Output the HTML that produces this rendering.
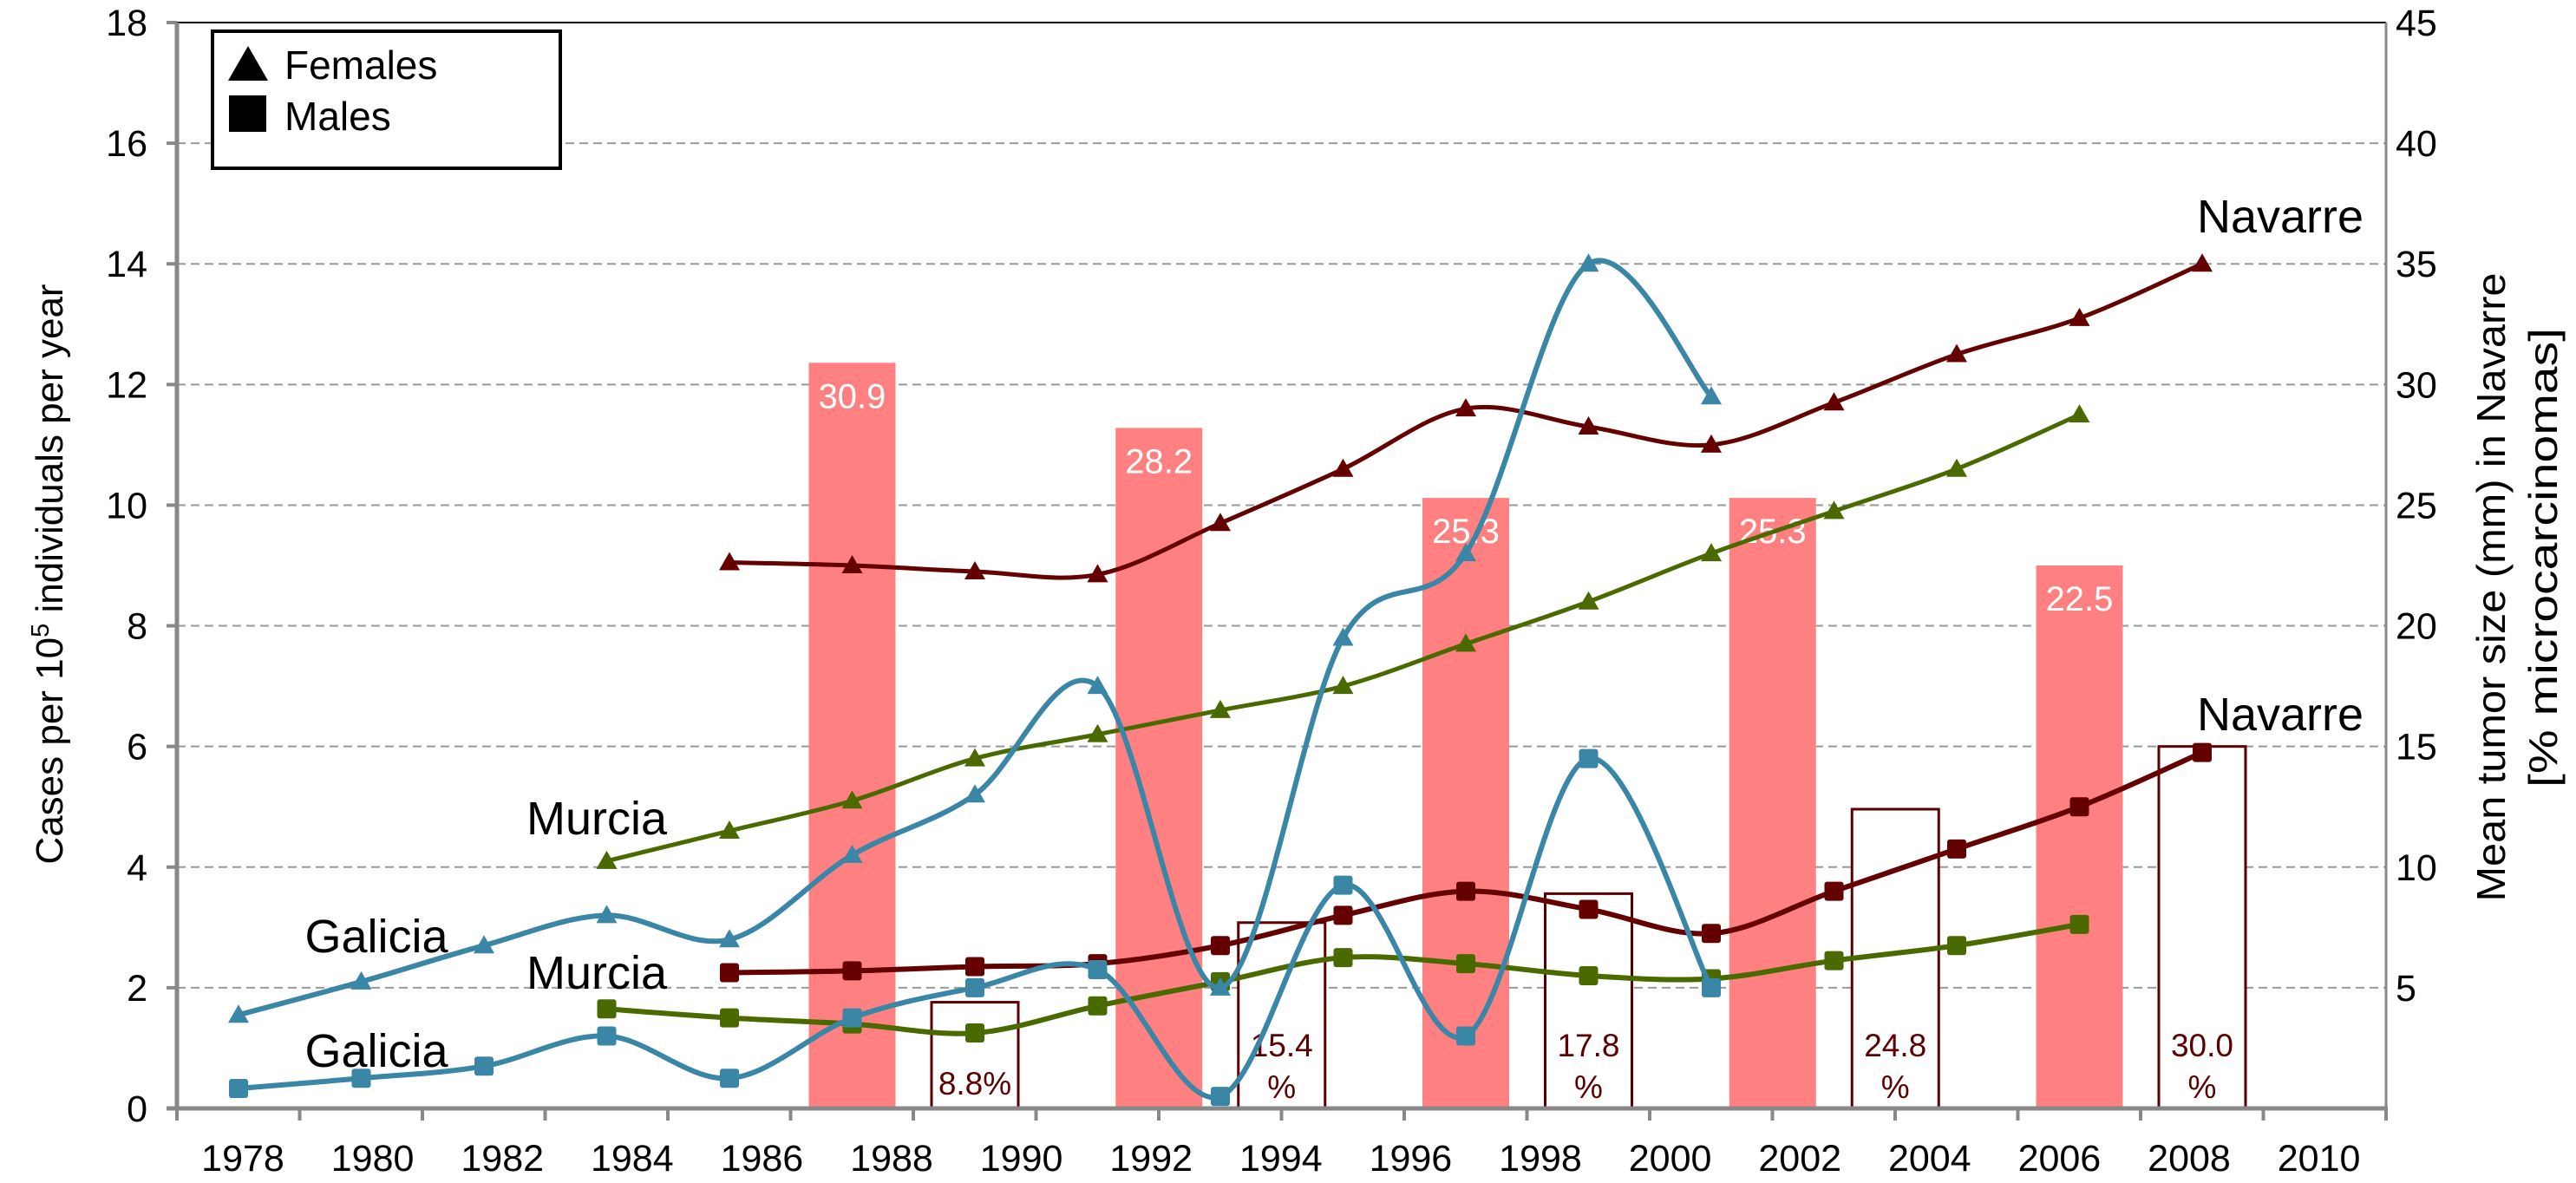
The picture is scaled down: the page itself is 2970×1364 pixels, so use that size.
<!DOCTYPE html>
<html><head><meta charset="utf-8"><style>
html,body{margin:0;padding:0;background:#fff;}
svg{display:block;font-family:"Liberation Sans",Arial,sans-serif;}
</style></head><body>
<svg id="chart" width="2970" height="1364" viewBox="0 0 2970 1364" xmlns="http://www.w3.org/2000/svg">
<g id="grid"></g>
<g id="bars"></g>
<g id="boxes"></g>
<g id="axes"></g>
<g id="lines"></g>
<g font-size="54" fill="#000">
<text x="2629" y="268" text-anchor="middle">Navarre</text>
<text x="2629" y="842" text-anchor="middle">Navarre</text>
<text x="688" y="962" text-anchor="middle">Murcia</text>
<text x="688" y="1140" text-anchor="middle">Murcia</text>
<text x="434" y="1098" text-anchor="middle">Galicia</text>
<text x="434" y="1230" text-anchor="middle">Galicia</text>
</g>
<g>
<rect x="245" y="36" width="401" height="158" fill="#fff" stroke="#000" stroke-width="4"/>
<polygon points="263,93 286,53 309,93" fill="#000"/>
<text x="328" y="91" font-size="46">Females</text>
<rect x="264" y="110" width="43" height="42" fill="#000"/>
<text x="328" y="150" font-size="46">Males</text>
</g>
<text transform="translate(72,662) rotate(-90)" text-anchor="middle" font-size="44">Cases per 10<tspan dy="-16" font-size="29">5</tspan><tspan dy="16"> individuals per year</tspan></text>
<g font-size="46" text-anchor="middle">
<text transform="translate(2888,677) rotate(-90)" textLength="725" lengthAdjust="spacingAndGlyphs">Mean tumor size (mm) in Navarre</text>
<text transform="translate(2948,643) rotate(-90)" textLength="530" lengthAdjust="spacingAndGlyphs">[% microcarcinomas]</text>
</g>
</svg>
<script>
const xLabels=["1978","1980","1982","1984","1986","1988","1990","1992","1994","1996","1998","2000","2002","2004","2006","2008","2010"];
const yTicks=[0,2,4,6,8,10,12,14,16,18];
const y2Ticks=[5,10,15,20,25,30,35,40,45];
const galiciaF=[1.55,2.1,2.7,3.2,2.8,4.2,5.2,7.0,2.0,7.8,9.2,14.0,11.8];
const galiciaM=[0.33,0.5,0.7,1.2,0.5,1.5,2.0,2.3,0.2,3.7,1.2,5.8,2.0];
const murciaF=[4.1,4.6,5.1,5.8,6.2,6.6,7.0,7.7,8.4,9.2,9.9,10.6,11.5];
const murciaM=[1.65,1.5,1.4,1.25,1.7,2.1,2.5,2.4,2.2,2.15,2.45,2.7,3.05];
const navarreF=[9.05,9.0,8.9,8.85,9.7,10.6,11.6,11.3,11.0,11.7,12.5,13.1,14.0];
const navarreM=[2.25,2.28,2.35,2.4,2.7,3.2,3.6,3.3,2.9,3.6,4.3,5.0,5.9];
const tumorPos=[5,7.5,10,12.5,15];
const tumorSize=[30.9,28.2,25.3,25.3,22.5];
const microPos=[6,8.5,11,13.5,16];
const microPct=[8.8,15.4,17.8,24.8,30.0];
const microLabels=["8.8%","15.4\n%","17.8\n%","24.8\n%","30.0\n%"];

const NS="http://www.w3.org/2000/svg";
const X0=204,X1=2751,Y0=1278,Ytop=26;
const xs=i=>275+141.5*i;
const ys=v=>Y0-(Y0-Ytop)*v/18;
const ys2=v=>Y0-(Y0-Ytop)*v/45;
function mk(tag,attrs,parent){const e=document.createElementNS(NS,tag);for(const k in attrs)e.setAttribute(k,attrs[k]);parent.appendChild(e);return e;}
const grid=document.getElementById('grid'),axes=document.getElementById('axes');
yTicks.forEach((v,i)=>{
  if(v>0&&v<18){const l=mk('line',{x1:X0,x2:X1,y1:ys(v),y2:ys(v),stroke:'#999','stroke-width':2,'stroke-dasharray':'10,6'},grid);
  
  }
  const tk=mk('line',{x1:X0-12,x2:X0,y1:ys(v),y2:ys(v),stroke:'#888','stroke-width':4},axes);
  
  
  const t=mk('text',{x:170,y:ys(v)+15,'text-anchor':'end','font-size':43},axes);
  
  
  t.textContent=v;
});
y2Ticks.forEach(v=>{
  const t=mk('text',{x:2762,y:ys2(v)+15,'font-size':43},axes);
  
  
  t.textContent=v;
});
mk('line',{x1:X0,x2:X1,y1:Ytop,y2:Ytop,stroke:'#000','stroke-width':2},axes);
mk('line',{x1:X0,x2:X0,y1:Ytop,y2:Y0+2,stroke:'#888','stroke-width':5},axes);
mk('line',{x1:X1,x2:X1,y1:Ytop,y2:Y0+2,stroke:'#888','stroke-width':3},axes);
mk('line',{x1:X0-12,x2:X1+2,y1:Y0,y2:Y0,stroke:'#888','stroke-width':5},axes);
for(let i=0;i<=18;i++){const x=X0+(X1-X0)*i/18;const tk=mk('line',{x1:x,x2:x,y1:Y0,y2:Y0+14,stroke:'#888','stroke-width':4},axes);
  
  }
xLabels.forEach((s,i)=>{
  const t=mk('text',{x:280+i*149.6,y:1350,'text-anchor':'middle','font-size':43},axes);
  
  
  t.textContent=s;
});
const bars=document.getElementById('bars');
tumorSize.forEach((v,i)=>{
  const x=xs(tumorPos[i]);
  const r=mk('rect',{x:x-50,y:ys2(v),width:100,height:Y0-ys2(v),fill:'#ff8080'},bars);
  
  
  const t=mk('text',{x:x,y:ys2(v)+52,'text-anchor':'middle','font-size':40,fill:'#fff'},bars);
  
  
  t.textContent=v.toFixed(1);
});
const boxes=document.getElementById('boxes');
microPct.forEach((v,i)=>{
  const x=xs(microPos[i]);const top=ys2(v/2);
  const r=mk('rect',{x:x-50,y:top,width:100,height:Y0-top,fill:'#fff',stroke:'#5a0000','stroke-width':3},boxes);
  
  
  const parts=microLabels[i].split('\n');
  parts.forEach((p,j)=>{
    const t=mk('text',{x:x,y:parts.length==1?1262:1218+j*48,'text-anchor':'middle','font-size':37,fill:'#5a0000'},boxes);
    
    
    t.textContent=p;
  });
});
const lines=document.getElementById('lines');
function path(pts){let d='M'+pts[0][0]+','+pts[0][1];
  for(let i=0;i<pts.length-1;i++){const p0=pts[Math.max(0,i-1)],p1=pts[i],p2=pts[i+1],p3=pts[Math.min(pts.length-1,i+2)];
    const c1=[p1[0]+(p2[0]-p0[0])/6,p1[1]+(p2[1]-p0[1])/6],c2=[p2[0]-(p3[0]-p1[0])/6,p2[1]-(p3[1]-p1[1])/6];
    d+=' C'+c1+' '+c2+' '+p2;}return d;}
function series(vals,start,color,tri,name,w){
  const pts=vals.map((v,k)=>[xs(start+k),ys(v)]);
  const p=mk('path',{d:path(pts),fill:'none',stroke:color,'stroke-width':w},lines);
  
  
  pts.forEach(([x,y])=>{
    let m;
    if(tri)m=mk('polygon',{points:`${x-12},${y+9} ${x},${y-12} ${x+12},${y+9}`,fill:color},lines);
    else m=mk('rect',{x:x-11,y:y-11,width:22,height:22,rx:3,fill:color},lines);
    
    
  });
}
series(navarreF,4,'#640000',true,'navarre-females',5);
series(murciaF,3,'#4a6a00',true,'murcia-females',5);
series(navarreM,4,'#640000',false,'navarre-males',6);
series(murciaM,3,'#4a6a00',false,'murcia-males',6);
series(galiciaF,0,'#3a86a6',true,'galicia-females',6);
series(galiciaM,0,'#3a86a6',false,'galicia-males',6);
</script>
</body></html>
